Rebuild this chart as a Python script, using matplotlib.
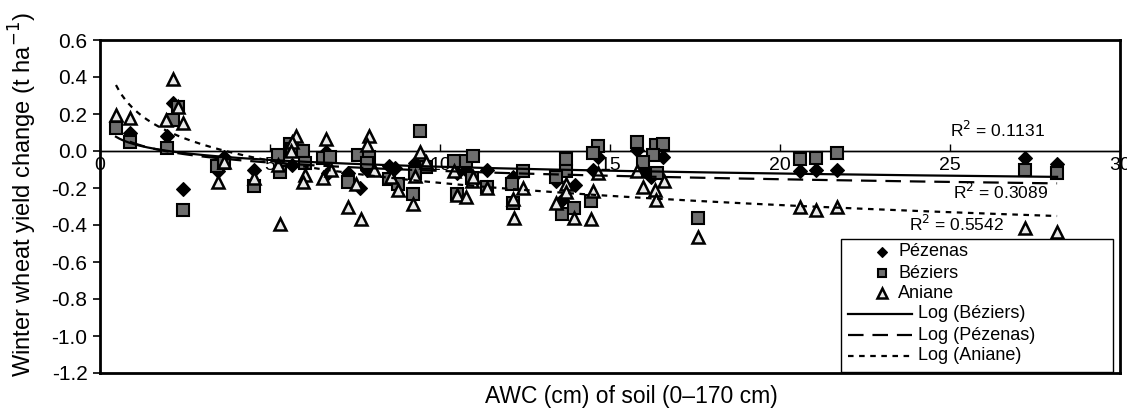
import numpy as np
import matplotlib
matplotlib.use("Agg")
import matplotlib.pyplot as plt
from matplotlib.lines import Line2D
from matplotlib.patches import Rectangle

# ---------------- data ----------------
pez_x = [0.88, 2.15, 1.97, 2.44, 3.47, 3.65, 4.53, 5.65, 6.65, 6.7, 7.3, 7.65, 7.85,
         8.5, 8.68, 9.26, 10.5, 10.76, 11.38, 12.15, 13.4, 13.97, 13.6, 14.65, 14.5,
         15.8, 16.56, 16.2, 16.0, 20.6, 21.06, 21.68, 27.2, 28.15]
pez_y = [0.10, 0.26, 0.08, -0.205, -0.11, -0.03, -0.10, -0.075, -0.005, -0.12, -0.12, -0.20, -0.10,
         -0.08, -0.09, -0.065, -0.12, -0.10, -0.10, -0.14, -0.16, -0.185, -0.265, -0.03, -0.10,
         0.005, -0.03, -0.14, -0.10, -0.11, -0.10, -0.10, -0.04, -0.07]

bez_x = [0.47, 0.88, 2.15, 2.3, 1.97, 2.44, 3.44, 3.65, 4.53, 5.24, 5.3, 5.59, 5.65, 5.97,
         6.03, 6.56, 6.76, 7.3, 7.6, 7.9, 7.85, 8.5, 8.75, 9.41, 9.6, 9.26, 9.2, 10.4,
         10.76, 10.97, 10.94, 10.5, 11.38, 12.45, 12.12, 12.15, 13.7, 13.7, 13.4, 13.6,
         13.95, 14.44, 14.65, 14.5, 15.8, 16.35, 16.56, 16.26, 15.97, 16.38, 17.6, 20.6,
         21.06, 21.68, 27.2, 28.15]
bez_y = [0.125, 0.05, 0.17, 0.24, 0.015, -0.32, -0.08, -0.065, -0.19, -0.02, -0.115, 0.04, 0.01, 0.0,
         -0.065, -0.04, -0.03, -0.17, -0.02, -0.03, -0.065, -0.15, -0.18, 0.11, -0.085, -0.12, -0.235, -0.055,
         -0.055, -0.027, -0.145, -0.23, -0.195, -0.11, -0.18, -0.28, -0.045, -0.11, -0.14, -0.34,
         -0.31, -0.27, 0.027, -0.01, 0.05, 0.03, 0.04, -0.02, -0.06, -0.12, -0.36, -0.045,
         -0.04, -0.01, -0.10, -0.12]

ani_x = [0.47, 0.88, 2.15, 2.3, 1.94, 2.44, 3.47, 3.65, 4.53, 5.3, 5.24, 5.76, 5.65, 5.62,
         6.03, 5.97, 6.56, 6.65, 6.8, 7.3, 7.53, 7.68, 7.9, 7.85, 8.05, 8.55, 8.75, 9.41,
         9.6, 9.26, 9.2, 10.4, 10.94, 10.97, 10.5, 10.76, 11.38, 12.45, 12.15, 12.18, 13.7,
         13.7, 13.4, 13.95, 14.5, 14.44, 14.65, 15.8, 16.6, 15.97, 16.32, 16.35, 17.6, 20.6,
         21.06, 21.68, 27.2, 28.15]
ani_y = [0.195, 0.18, 0.39, 0.24, 0.17, 0.15, -0.17, -0.06, -0.145, -0.395, -0.075, 0.08, 0.05, 0.0,
         -0.13, -0.17, -0.145, 0.065, -0.10, -0.30, -0.18, -0.37, 0.08, 0.03, -0.10, -0.14, -0.21, -0.005,
         -0.06, -0.135, -0.285, -0.11, -0.16, -0.14, -0.24, -0.25, -0.20, -0.20, -0.26, -0.36, -0.18,
         -0.22, -0.28, -0.36, -0.215, -0.37, -0.12, -0.11, -0.16, -0.195, -0.21, -0.265, -0.465, -0.30,
         -0.32, -0.30, -0.415, -0.44]

# logarithmic trend lines y = a*ln(x) + b (coefficients)
bez_fit = (-0.053, 0.037)
pez_fit = (-0.065, 0.042)
ani_fit = (-0.173, 0.226)

r2_labels = ["R$^2$ = 0.1131", "R$^2$ = 0.3089", "R$^2$ = 0.5542"]
x_ticks = [0, 5, 10, 15, 20, 25, 30]
y_ticks = [0.6, 0.4, 0.2, 0.0, -0.2, -0.4, -0.6, -0.8, -1.0, -1.2]
legend_labels = ["Pézenas", "Béziers", "Aniane", "Log (Béziers)", "Log (Pézenas)", "Log (Aniane)"]

plt.rcParams['font.family'] = ['Liberation Sans', 'DejaVu Sans']

W, H = 1127, 409
AX_L, AX_R, AX_T, AX_B = 100, 1120, 40, 373
fig = plt.figure(figsize=(W / 100, H / 100), dpi=100)
ax = fig.add_axes([AX_L / W, 1 - AX_B / H, (AX_R - AX_L) / W, (AX_B - AX_T) / H])


def fx(px):
    return (px - AX_L) / (AX_R - AX_L)


def fy(py):
    return (AX_B - py) / (AX_B - AX_T)


pez_style = dict(marker='D', ms=7, mfc='black', mec='black', mew=0.8, ls='none')
bez_style = dict(marker='s', ms=8, mfc='#6e6e6e', mec='black', mew=1.5, ls='none')
ani_style = dict(marker='^', ms=8.5, mfc='#e8e8e8', mec='black', mew=1.8, ls='none')
bez_line = dict(color='black', lw=1.6, ls='-')
pez_line = dict(color='black', lw=1.6, dashes=(7, 4))
ani_line = dict(color='black', lw=1.6, dashes=(2.5, 2.5))

ax.plot(pez_x, pez_y, zorder=3, **pez_style)
ax.plot(bez_x, bez_y, zorder=3, **bez_style)
ax.plot(ani_x, ani_y, zorder=3, **ani_style)


def trend(x, coef):
    x = np.asarray(x, float)
    xs = np.linspace(x.min(), x.max(), 300)
    return xs, coef[0] * np.log(xs) + coef[1]


ax.plot(*trend(bez_x, bez_fit), zorder=4, **bez_line)
ax.plot(*trend(pez_x, pez_fit), zorder=4, **pez_line)
ax.plot(*trend(ani_x, ani_fit), zorder=4, **ani_line)

ax.axhline(0, color='black', lw=1, zorder=2)

ax.set_xlim(0, 30)
ax.set_ylim(-1.2, 0.6)
ax.set_yticks(y_ticks)
ax.set_yticklabels([f"{v:.1f}" for v in y_ticks])
ax.tick_params(axis='y', direction='out', length=5, width=1.2, labelsize=15, pad=4)
ax.set_xticks([])
for s in ax.spines.values():
    s.set_linewidth(2)

sec = ax.secondary_xaxis(1.2 / 1.8)
sec.set_alignment('bottom')
sec.set_xticks(x_ticks)
sec.set_xticklabels([str(v) for v in x_ticks])
sec.tick_params(axis='x', direction='in', length=5, width=1, labelsize=14, pad=4)
sec.spines['bottom'].set_linewidth(1)

ax.set_xlabel("AWC (cm) of soil (0–170 cm)", fontsize=16.5)
ax.xaxis.set_label_coords(fx(631), fy(397))
ax.xaxis.label.set_va('center')
ax.set_ylabel("Winter wheat yield change (t ha$^{-1}$)", fontsize=17)
ax.yaxis.set_label_coords(fx(23), fy(195))
ax.yaxis.label.set_va('center')

ax.text(26.4, 0.114, r2_labels[0], fontsize=12.5, ha='center', va='center')
ax.text(26.5, -0.222, r2_labels[1], fontsize=12.5, ha='center', va='center')
ax.text(25.2, -0.395, r2_labels[2], fontsize=12.5, ha='center', va='center')

# ---- legend drawn manually (Excel-style layout) ----
tr = ax.transAxes
ax.add_patch(Rectangle((fx(841), fy(372)), fx(1113) - fx(841), fy(239) - fy(372),
                       transform=tr, facecolor='white', edgecolor='black', lw=1, zorder=5))
rows = [252, 273, 293, 314, 335, 356]
marker_styles = [pez_style, bez_style, ani_style]
line_styles = [bez_line, pez_line, ani_line]
for i in range(3):
    st = dict(marker_styles[i])
    st['ms'] = st['ms'] * 0.8
    ax.add_line(Line2D([fx(882)], [fy(rows[i])], transform=tr, zorder=6, **st))
    ax.text(fx(898), fy(rows[i]), legend_labels[i], transform=tr, fontsize=13,
            ha='left', va='center', zorder=6)
for j in range(3):
    i = j + 3
    ax.add_line(Line2D([fx(848), fx(912)], [fy(rows[i])] * 2, transform=tr, zorder=6,
                       **line_styles[j]))
    ax.text(fx(918), fy(rows[i]), legend_labels[i], transform=tr, fontsize=13,
            ha='left', va='center', zorder=6)

fig.savefig("out.png", dpi=100)
